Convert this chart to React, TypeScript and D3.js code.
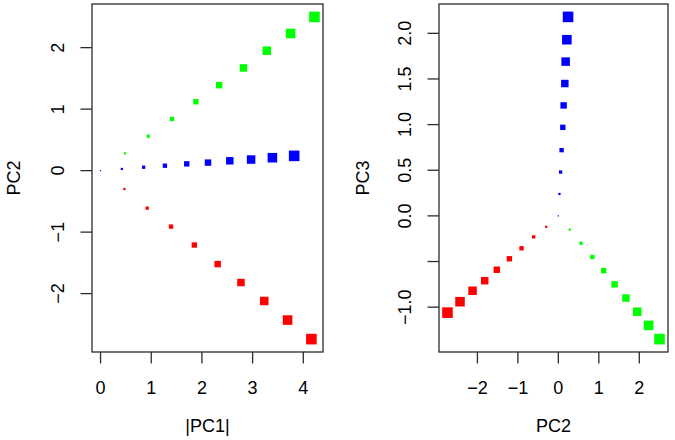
import React from "react"
import * as d3 from "d3"

// Component scores for the three groups; index i also drives marker size
const bluePC1 = [0, 0.42, 0.85, 1.27, 1.7, 2.12, 2.55, 2.97, 3.39, 3.82]
const bluePC2 = [0, 0.027, 0.055, 0.08, 0.11, 0.13, 0.16, 0.18, 0.21, 0.24]
const bluePC3 = [0, 0.24, 0.48, 0.72, 0.97, 1.21, 1.45, 1.69, 1.93, 2.18]

const greenPC1 = [0.48, 0.94, 1.41, 1.88, 2.34, 2.82, 3.28, 3.75, 4.22]
const greenPC2 = [0.28, 0.56, 0.84, 1.12, 1.39, 1.67, 1.95, 2.23, 2.5]
const greenPC3 = [-0.15, -0.3, -0.45, -0.6, -0.75, -0.9, -1.05, -1.2, -1.35]

const redPC1 = [0.47, 0.92, 1.39, 1.85, 2.31, 2.77, 3.23, 3.69, 4.16]
const redPC2 = [-0.3, -0.61, -0.91, -1.21, -1.52, -1.82, -2.12, -2.43, -2.74]
const redPC3 = [-0.12, -0.23, -0.355, -0.47, -0.59, -0.71, -0.82, -0.94, -1.06]

const leftXTicks = [0, 1, 2, 3, 4]
const leftYTicks = [-2, -1, 0, 1, 2]
const rightXTicks = [-2, -1, 0, 1, 2]
const rightYTicks = [-1, -0.5, 0, 0.5, 1, 1.5, 2]
const rightYLabels = ["−1.0", "", "0.0", "0.5", "1.0", "1.5", "2.0"]

type Series = { color: string; x: number[]; y: number[]; offset: number }

const FONT = "'Liberation Sans', Arial, Helvetica, sans-serif"
const FS = 18
const INK = "#2b2b2b"

// marker edge length grows with point index
const sizeScale = d3.scaleLinear().domain([0, 9]).range([1.2, 10.6])

// R-style range: data extent padded by 4% on each side
function padded(vals: number[]): [number, number] {
  const [lo, hi] = d3.extent(vals) as [number, number]
  const p = (hi - lo) * 0.04
  return [lo - p, hi + p]
}

type PanelProps = {
  box: { left: number; right: number; top: number; bottom: number }
  series: Series[]
  xTicks: number[]
  yTicks: number[]
  yLabels?: string[]
  xTitle: string
  yTitle: string
  yTitleX: number
}

const fmt = (v: number) => String(v).replace("-", "−")

const Panel: React.FC<PanelProps> = ({ box, series, xTicks, yTicks, yLabels, xTitle, yTitle, yTitleX }) => {
  const x = d3.scaleLinear().domain(padded(series.flatMap((s) => s.x))).range([box.left, box.right])
  const y = d3.scaleLinear().domain(padded(series.flatMap((s) => s.y))).range([box.bottom, box.top])
  const tick = 11.5
  const midX = (box.left + box.right) / 2
  const midY = (box.top + box.bottom) / 2

  return (
    <g fontFamily={FONT} fontSize={FS} fill="#000">
      {series.map((s) =>
        s.x.map((xv, i) => {
          const sz = sizeScale(i + s.offset)
          return (
            <rect
              key={s.color + i}
              x={x(xv) - sz / 2}
              y={y(s.y[i]) - sz / 2}
              width={sz}
              height={sz}
              fill={s.color}
            />
          )
        })
      )}
      <rect
        x={box.left}
        y={box.top}
        width={box.right - box.left}
        height={box.bottom - box.top}
        fill="none"
        stroke={INK}
        strokeWidth={1.3}
      />
      {xTicks.map((t) => (
        <g key={"x" + t}>
          <line x1={x(t)} x2={x(t)} y1={box.bottom} y2={box.bottom + tick} stroke={INK} strokeWidth={1.3} />
          <text x={x(t)} y={box.bottom + 42} textAnchor="middle">
            {fmt(t)}
          </text>
        </g>
      ))}
      {yTicks.map((t, i) => (
        <g key={"y" + t}>
          <line x1={box.left - tick} x2={box.left} y1={y(t)} y2={y(t)} stroke={INK} strokeWidth={1.3} />
          <text
            transform={`translate(${box.left - 28},${y(t)}) rotate(-90)`}
            textAnchor="middle"
          >
            {yLabels ? yLabels[i] : fmt(t)}
          </text>
        </g>
      ))}
      <text x={midX} y={box.bottom + 80} textAnchor="middle">
        {xTitle}
      </text>
      <text transform={`translate(${yTitleX},${midY}) rotate(-90)`} textAnchor="middle">
        {yTitle}
      </text>
    </g>
  )
}

export default function App() {
  const leftSeries: Series[] = [
    { color: "#ff0000", x: redPC1, y: redPC2, offset: 1 },
    { color: "#00ff00", x: greenPC1, y: greenPC2, offset: 1 },
    { color: "#0000ff", x: bluePC1, y: bluePC2, offset: 0 },
  ]
  const rightSeries: Series[] = [
    { color: "#ff0000", x: redPC2, y: redPC3, offset: 1 },
    { color: "#00ff00", x: greenPC2, y: greenPC3, offset: 1 },
    { color: "#0000ff", x: bluePC2, y: bluePC3, offset: 0 },
  ]

  return (
    <svg
      width={675}
      height={440}
      style={{ position: "absolute", left: 0, top: 0, background: "#fff" }}
    >
      <Panel
        box={{ left: 92, right: 323, top: 4, bottom: 352 }}
        series={leftSeries}
        xTicks={leftXTicks}
        yTicks={leftYTicks}
        xTitle="|PC1|"
        yTitle="PC2"
        yTitleX={19.5}
      />
      <Panel
        box={{ left: 439, right: 668, top: 4, bottom: 352 }}
        series={rightSeries}
        xTicks={rightXTicks}
        yTicks={rightYTicks}
        yLabels={rightYLabels}
        xTitle="PC2"
        yTitle="PC3"
        yTitleX={368.5}
      />
    </svg>
  )
}
